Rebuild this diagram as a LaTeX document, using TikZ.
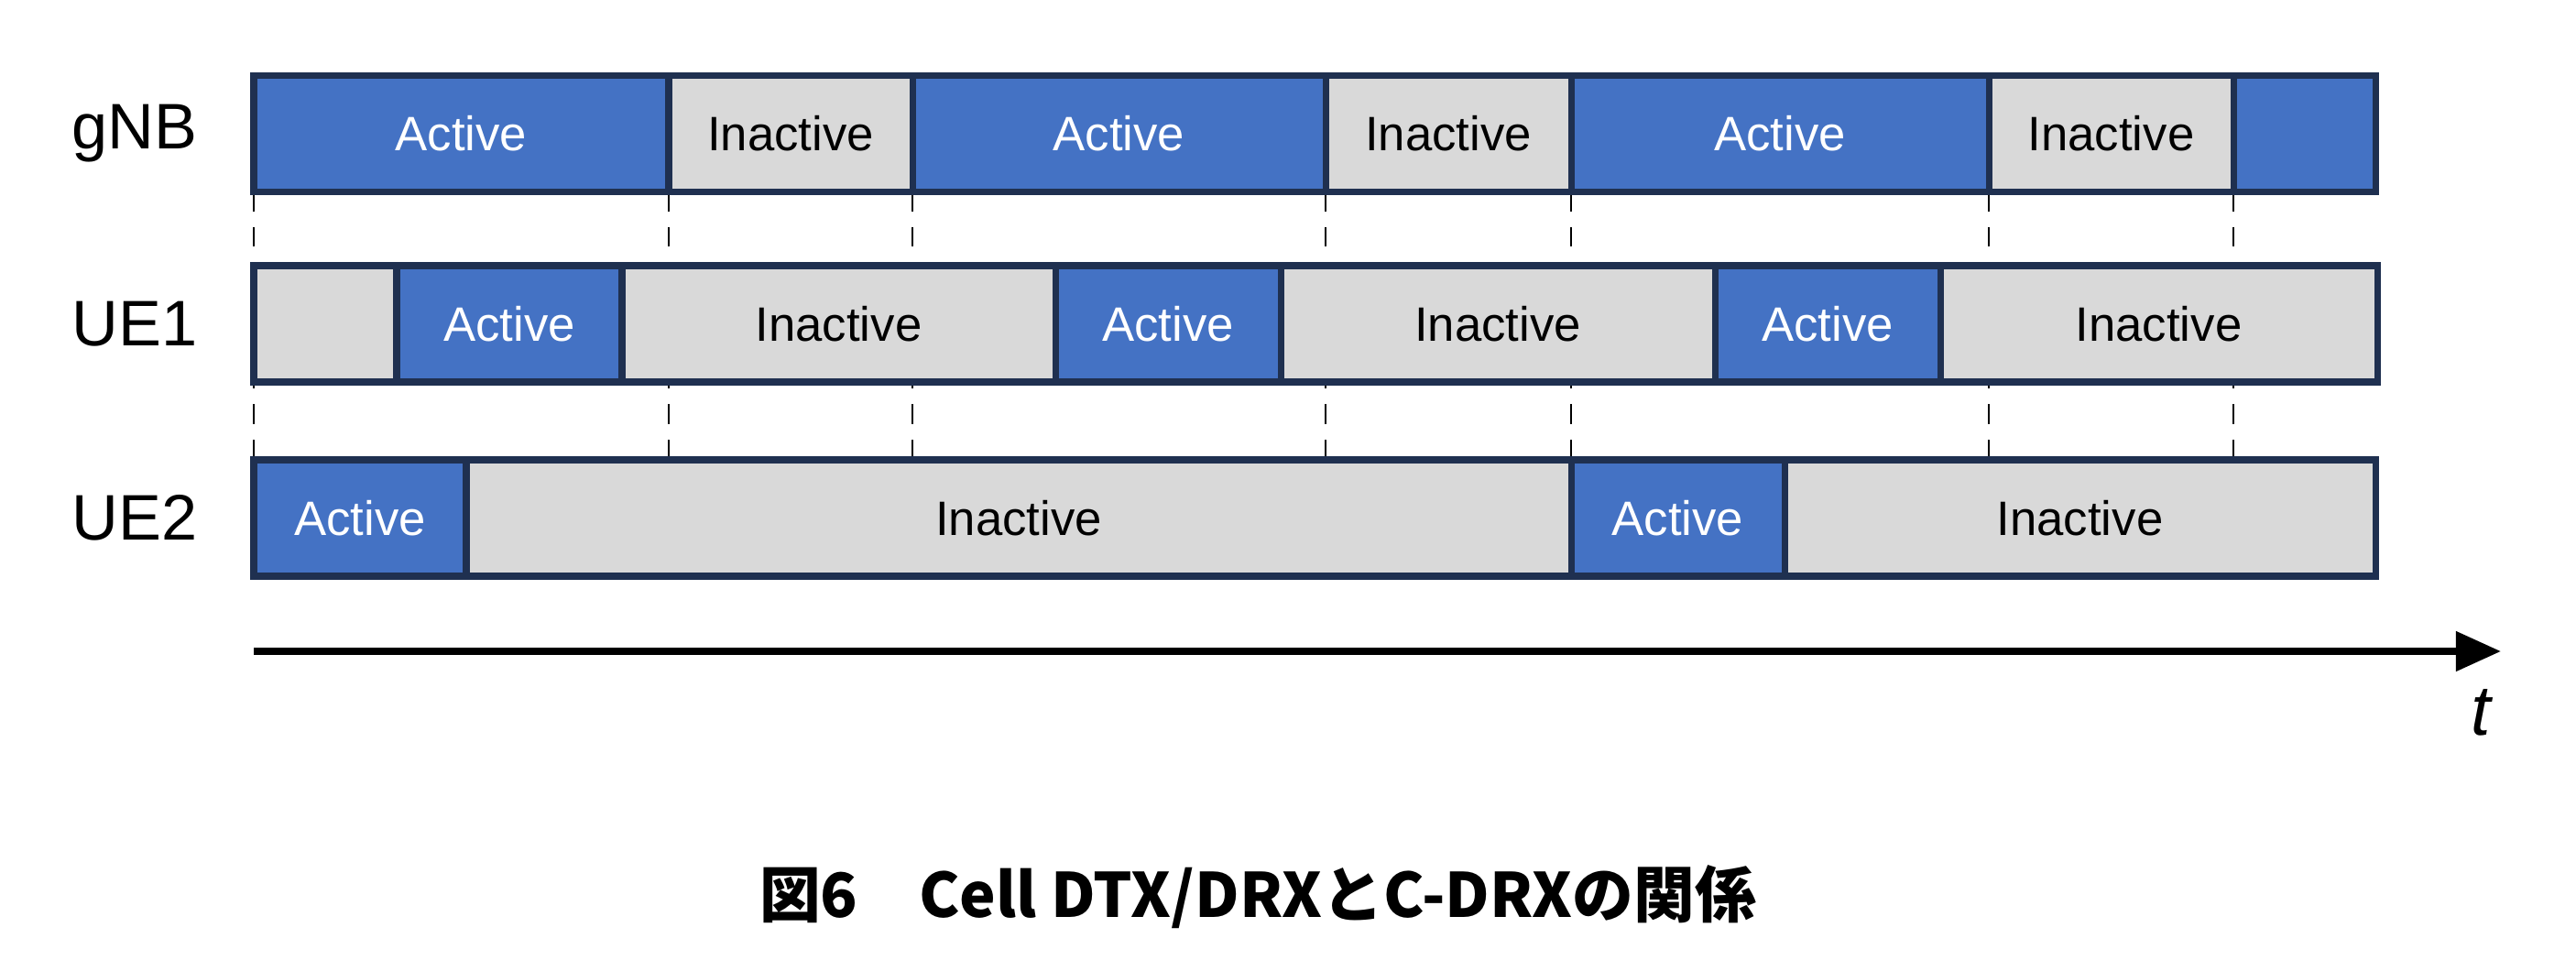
\documentclass[tikz,border=0pt]{standalone}
\usepackage{fontspec}
\setmainfont{Liberation Sans}
\newfontfamily\cjk{Noto Sans CJK JP}
\usetikzlibrary{positioning,arrows.meta}
\pgfdeclarelayer{background}
\pgfsetlayers{background,main}
\definecolor{actblue}{HTML}{4472C4}
\definecolor{inagray}{HTML}{D9D9D9}
\definecolor{edge}{HTML}{1F3050}
\begin{document}
\begin{tikzpicture}[
  seg/.style={draw=edge, line width=2pt, minimum height=1.27cm, inner sep=0pt, outer sep=0pt, font=\fontsize{15}{15}\selectfont},
  act/.style={seg, fill=actblue, text=white},
  ina/.style={seg, fill=inagray, text=black},
  row/.style={font=\fontsize{20}{20}\selectfont},
  dashline/.style={dashed, line width=0.8pt, dash pattern=on 6pt off 5pt}]
\useasboundingbox (0,0) rectangle (28.12,-10.59);
% gNB
\node[row] (lg) at (1.47,-1.46) {gNB};
\node[act, minimum width=4.53cm, anchor=west] (g1) at (2.77,-1.46) {Active};
\node[ina, minimum width=2.66cm, right=0pt of g1] (g2) {Inactive};
\node[act, minimum width=4.51cm, right=0pt of g2] (g3) {Active};
\node[ina, minimum width=2.68cm, right=0pt of g3] (g4) {Inactive};
\node[act, minimum width=4.56cm, right=0pt of g4] (g5) {Active};
\node[ina, minimum width=2.67cm, right=0pt of g5] (g6) {Inactive};
\node[act, minimum width=1.55cm, right=0pt of g6] (g7) {};
% UE1
\node[row] (l1) at (1.47,-3.535) {UE1};
\node[ina, minimum width=1.56cm, anchor=west] (a0) at (2.77,-3.535) {};
\node[act, minimum width=2.46cm, right=0pt of a0] (a1) {Active};
\node[ina, minimum width=4.73cm, right=0pt of a1] (a2) {Inactive};
\node[act, minimum width=2.46cm, right=0pt of a2] (a3) {Active};
\node[ina, minimum width=4.74cm, right=0pt of a3] (a4) {Inactive};
\node[act, minimum width=2.46cm, right=0pt of a4] (a5) {Active};
\node[ina, minimum width=4.77cm, right=0pt of a5] (a6) {Inactive};
% UE2
\node[row] (l2) at (1.47,-5.655) {UE2};
\node[act, minimum width=2.32cm, anchor=west] (b1) at (2.77,-5.655) {Active};
\node[ina, minimum width=12.06cm, right=0pt of b1] (b2) {Inactive};
\node[act, minimum width=2.33cm, right=0pt of b2] (b3) {Active};
\node[ina, minimum width=6.45cm, right=0pt of b3] (b4) {Inactive};

% dashed boundaries behind the bars
\begin{pgfonlayer}{background}
\foreach \n/\a in {g1/south west, g1/south east, g2/south east, g3/south east, g4/south east, g5/south east, g6/south east}
  \draw[dashline] (\n.\a) -- (\n.\a |- b1.north);
\end{pgfonlayer}

% time axis
\coordinate (t0) at (2.77,-7.11);
\coordinate (t1) at (27.3,-7.11);
\draw[line width=2.2pt, -{Triangle[length=14pt, width=12pt]}] (t0) -- (t1);
\node[row, font=\fontsize{22}{22}\selectfont\itshape] (tl) at (27.08,-7.78) {t};

% caption
\node[font=\cjk\bfseries\fontsize{19}{19}\selectfont] (cap) at (13.73,-9.79) {図6\quad Cell DTX/DRXとC-DRXの関係};
\end{tikzpicture}
\end{document}
